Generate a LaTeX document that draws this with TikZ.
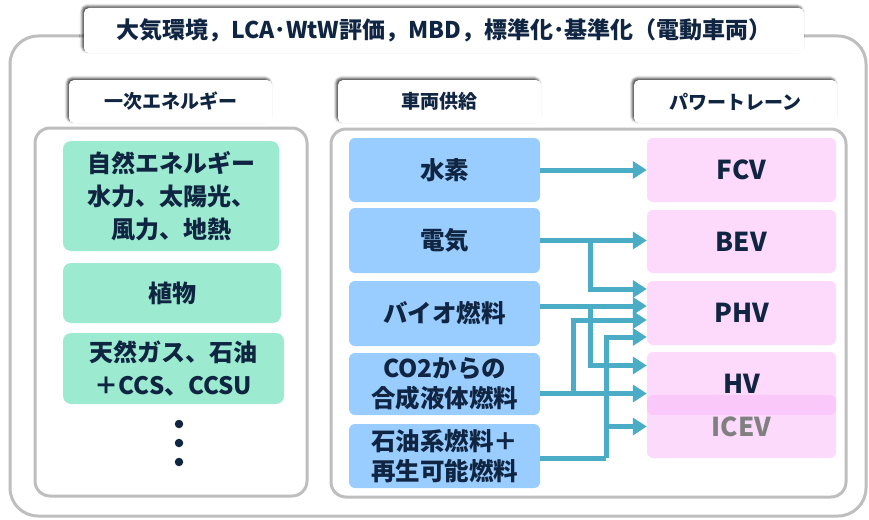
\documentclass[tikz,border=0pt]{standalone}
\usepackage{fontspec}
\setmainfont{Noto Sans CJK JP}
\usetikzlibrary{calc,arrows.meta,shadows.blur}
\definecolor{navy}{RGB}{16,37,66}
\definecolor{frame}{RGB}{190,190,190}
\definecolor{grn}{RGB}{156,235,208}
\definecolor{blu}{RGB}{153,204,255}
\definecolor{pnk}{RGB}{253,217,252}
\definecolor{pnkd}{RGB}{250,188,248}
\definecolor{arrc}{RGB}{75,172,198}
\definecolor{icevtxt}{RGB}{128,128,128}
\tikzset{
  hdr/.style={fill=white, rounded corners=5pt, inner sep=0pt, text=navy,
    font=\bfseries\fontsize{19}{22}\selectfont,
    blur shadow={shadow xshift=-1.8pt, shadow yshift=1.8pt, shadow blur radius=2.5pt, shadow opacity=75}},
  panel/.style={draw=frame, line width=3pt, rounded corners=15pt},
  gbox/.style={fill=grn, rounded corners=8pt, inner sep=0pt, text=navy, align=center,
    font=\bfseries\fontsize{24}{33}\selectfont},
  bbox/.style={fill=blu, rounded corners=6pt, inner sep=0pt, text=navy, align=center,
    minimum width=191pt, font=\bfseries\fontsize{24.5}{30.5}\selectfont},
  pbox/.style={fill=pnk, rounded corners=6pt, inner sep=0pt, text=navy, align=center,
    minimum width=189pt, minimum height=63pt, font=\bfseries\fontsize{26}{30}\selectfont},
  arr/.style={draw=arrc, line width=5pt, -{Triangle[length=14pt,width=17pt]}},
  ln/.style={draw=arrc, line width=5pt},
  dot/.style={circle, fill=navy, inner sep=0pt, minimum size=8.5pt}
}
\begin{document}
\begin{tikzpicture}[x=1pt,y=-1pt]
\useasboundingbox (0,0) rectangle (869,519);
% outer frame
\draw[draw=frame, line width=3pt, rounded corners=28pt] (10,36) rectangle (866,516);
% panels
\draw[panel] (35,128) rectangle (307,496);
\draw[panel] (331,129) rectangle (846,497);
% title and headers
\node[hdr, minimum width=720pt, minimum height=45pt, font=\bfseries\fontsize{23}{26}\selectfont] (title) at (444,30.5)
  {大気環境，LCA･WtW評価，MBD，標準化･基準化（電動車両）};
\node[hdr, minimum width=203pt, minimum height=43pt] (h1) at (170.5,101.5) {一次エネルギー};
\node[hdr, minimum width=203pt, minimum height=43pt] (h2) at (439.5,101.5) {車両供給};
\node[hdr, minimum width=203pt, minimum height=43pt] (h3) at (735.5,101.5) {パワートレーン};
% green boxes
\node[gbox, minimum width=216pt, minimum height=110pt] (g1) at (171,196) {自然エネルギー\\水力、太陽光、\\風力、地熱};
\node[gbox, minimum width=218pt, minimum height=60pt] (g2) at (172,293) {植物};
\node[gbox, minimum width=221pt, minimum height=71pt] (g3) at (173.5,368.5) {天然ガス、石油\\＋CCS、CCSU};
\node[dot] (d1) at (179,424) {};
\node[dot] (d2) at (179,443) {};
\node[dot] (d3) at (179,462) {};
% blue boxes
\node[bbox, minimum height=64pt] (b1) at (444.5,170) {水素};
\node[bbox, minimum height=65pt] (b2) at (444.5,240.5) {電気};
\node[bbox, minimum height=65pt] (b3) at (444.5,313.5) {バイオ燃料};
\node[bbox, minimum height=62pt] (b4) at (444.5,384) {CO2からの\\合成液体燃料};
\node[bbox, minimum height=64pt] (b5) at (444.5,456) {石油系燃料＋\\再生可能燃料};
% pink boxes
\node[pbox, minimum height=64pt] (fcv) at (741.5,170) {FCV};
\node[pbox] (bev) at (741.5,241.5) {BEV};
\node[pbox, minimum height=64pt] (phv) at (741.5,313) {PHV};
\node[pbox] (hv) at (741.5,383.5) {HV};
\node[pbox, fill=pnkd, fill opacity=0.55, text opacity=1, text=icevtxt] (icev) at (741.5,426.5) {ICEV};
% arrow targets
\coordinate (phvA) at ($(phv.west)+(0,-24)$);
\coordinate (phvB) at ($(phv.west)+(0,-7)$);
\coordinate (phvC) at ($(phv.west)+(0,7)$);
\coordinate (phvD) at ($(phv.west)+(0,24)$);
\coordinate (hvA) at ($(hv.west)+(0,-18)$);
\coordinate (hvB) at ($(hv.west)+(0,10)$);
\coordinate (petS) at ($(b5.east)+(0,2)$);
\coordinate (petJ) at ($(petS)+(66,0)$);
% connectors
\draw[arr] (b1.east) -- (b1.east -| fcv.west);
\draw[arr] (b2.east) -- (b2.east -| bev.west);
\draw[arr] ($(b2.east)+(50,0)$) |- (phvA);
\draw[arr] (b3.east |- phvB) -- (phvB);
\draw[arr] ($(b3.east |- phvB)+(50,0)$) |- (hvA);
\draw[arr] (b4.east |- hvB) -- (hvB);
\draw[arr] ($(b4.east |- hvB)+(33,0)$) |- (phvC);
\draw[ln] (petS) -- (petJ);
\draw[arr] (petJ) |- (phvD);
\draw[arr] (petJ |- icev.west) -- (icev.west);
\end{tikzpicture}
\end{document}
